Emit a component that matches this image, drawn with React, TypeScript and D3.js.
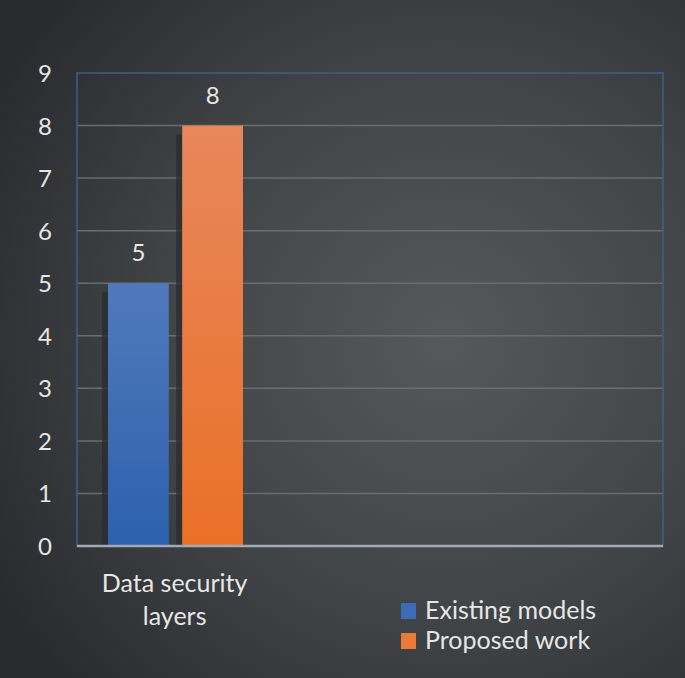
import React from "react";
import * as d3 from "d3";

const categories = ["Data security layers"];
const seriesNames = ["Existing models", "Proposed work"];
const existingModels = [5];
const proposedWork = [8];
const yTicks = [0, 1, 2, 3, 4, 5, 6, 7, 8, 9];

const W = 685;
const H = 678;
const FONT = "Lato, 'Open Sans', sans-serif";

export default function App() {
  const left = 77, right = 663, top = 73, bottom = 546;
  const y = d3.scaleLinear().domain([0, 9]).range([bottom, top]);
  const bandW = (right - left) / 3;
  const x = d3.scaleBand<string>().domain(categories).range([left, left + bandW]);
  const sub = d3.scaleBand<string>().domain(seriesNames).range([31, 166]).paddingInner(0.18);
  const series = [existingModels, proposedWork];
  const grads = ["gBlue", "gOrange"];
  const legendColors = ["#3a6cb8", "#ec7a37"];

  return (
    <svg width={W} height={H} style={{ position: "absolute", left: 0, top: 0 }}>
      <defs>
        <radialGradient id="bg" cx="0.65" cy="0.5" r="0.75">
          <stop offset="0" stopColor="#56595b" />
          <stop offset="0.55" stopColor="#414447" />
          <stop offset="1" stopColor="#292b2e" />
        </radialGradient>
        <linearGradient id="gBlue" x1="0" y1="0" x2="0" y2="1">
          <stop offset="0" stopColor="#5079bb" />
          <stop offset="1" stopColor="#2c61ad" />
        </linearGradient>
        <linearGradient id="gOrange" x1="0" y1="0" x2="0" y2="1">
          <stop offset="0" stopColor="#e8875c" />
          <stop offset="1" stopColor="#ea7027" />
        </linearGradient>
      </defs>
      <rect x={0} y={0} width={W} height={H} fill="url(#bg)" />
      {yTicks.filter((t) => t > 0 && t < 9).map((t) => (
        <line key={t} x1={left} x2={right} y1={y(t)} y2={y(t)} stroke="#6a6c6e" strokeWidth={1.5} />
      ))}
      <rect x={left} y={top} width={right - left} height={bottom - top} fill="none" stroke="#3e5e8c" strokeWidth={1.5} />
      {categories.map((c, ci) =>
        series.map((s, si) => {
          const bx = (x(c) as number) + (sub(seriesNames[si]) as number);
          const bw = sub.bandwidth();
          const v = s[ci];
          return (
            <g key={si}>
              <rect x={bx - 6} y={y(v) + 9} width={bw} height={bottom - y(v) - 9} fill="#2a2b2d" opacity={0.75} />
              <rect x={bx} y={y(v)} width={bw} height={bottom - y(v)} fill={`url(#${grads[si]})`} />
              <text x={bx + bw / 2} y={y(v) - 22} textAnchor="middle" fontFamily={FONT} fontSize={24} fill="#e6e6e6">
                {v}
              </text>
            </g>
          );
        })
      )}
      <line x1={left} x2={right} y1={bottom} y2={bottom} stroke="#a3aab5" strokeWidth={2.5} />
      {yTicks.map((t) => (
        <text key={t} x={45} y={y(t) + 9} textAnchor="middle" fontFamily={FONT} fontSize={24} fill="#e6e6e6">
          {t}
        </text>
      ))}
      {categories.map((c) => {
        const cx = (x(c) as number) + x.bandwidth() / 2;
        return (
          <text key={c} x={cx} textAnchor="middle" fontFamily={FONT} fontSize={25} fill="#e6e6e6">
            <tspan x={cx} y={592}>Data security</tspan>
            <tspan x={cx} y={625}>layers</tspan>
          </text>
        );
      })}
      {seriesNames.map((n, i) => (
        <g key={n} transform={`translate(401, ${603 + i * 30})`}>
          <rect x={0} y={0} width={15} height={16} fill={legendColors[i]} />
          <text x={24} y={16} fontFamily={FONT} fontSize={25} fill="#e6e6e6">
            {n}
          </text>
        </g>
      ))}
    </svg>
  );
}
